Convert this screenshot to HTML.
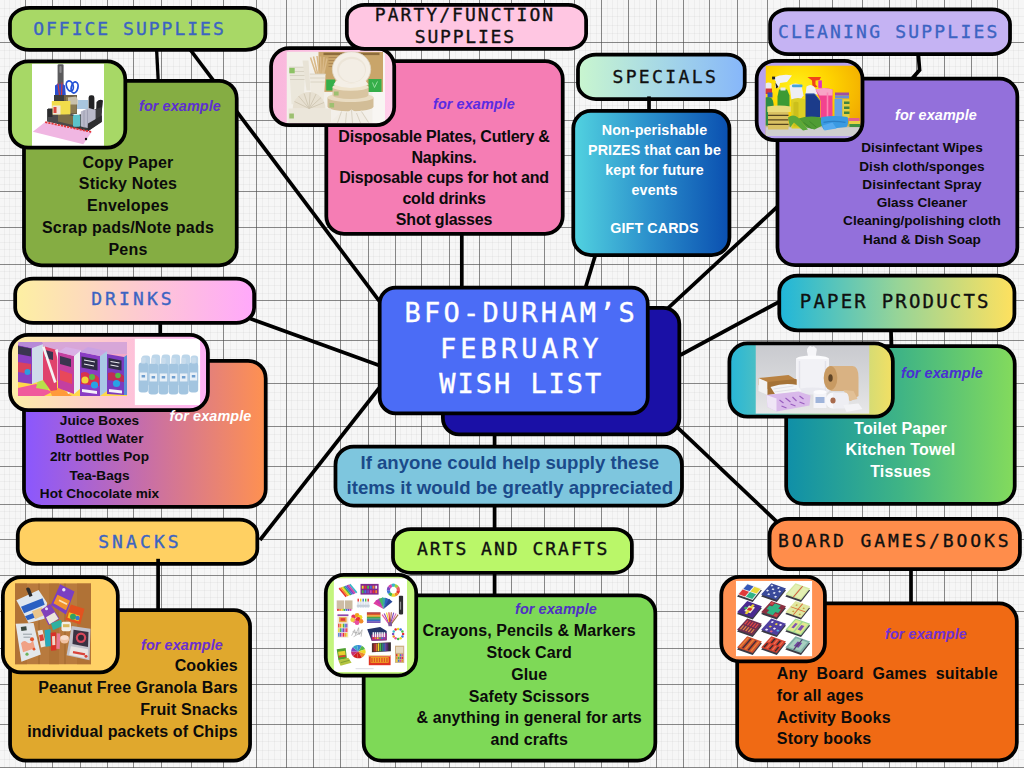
<!DOCTYPE html>
<html lang="en">
<head>
<meta charset="utf-8">
<title>BFO-Durham's February Wish List</title>
<style>
html,body{margin:0;padding:0}
body{width:1024px;height:768px;overflow:hidden;position:relative;background:#f6f6f6;font-family:"Liberation Sans",sans-serif;color:#0b0b0b}
#grid{position:absolute;left:0;top:0}
#shapes{position:absolute;left:0;top:0}
.pt{position:absolute;font-family:"DejaVu Sans Mono","Liberation Mono",monospace;font-size:18px;letter-spacing:1.8px;white-space:nowrap;line-height:20px;-webkit-text-stroke:.35px currentColor}
.t{position:absolute;font-weight:bold;white-space:nowrap;font-size:16px;line-height:21.8px;letter-spacing:.2px;text-align:center}
.s{font-size:13.6px;line-height:18.25px;letter-spacing:0}
.fe{position:absolute;font-style:italic;font-weight:bold;font-size:14.4px;line-height:16px;white-space:nowrap;letter-spacing:.1px}
</style>
</head>
<body>
<svg id="grid" width="1024" height="768" viewBox="0 0 1024 768" fill="none">
<path d="M4.5 0V768M9.5 0V768M15.5 0V768M20.5 0V768M31.5 0V768M36.5 0V768M41.5 0V768M47.5 0V768M58.5 0V768M63.5 0V768M69.5 0V768M74.5 0V768M85.5 0V768M91.5 0V768M96.5 0V768M102.5 0V768M112.5 0V768M118.5 0V768M123.5 0V768M128.5 0V768M139.5 0V768M144.5 0V768M150.5 0V768M155.5 0V768M167.5 0V768M173.5 0V768M179.5 0V768M185.5 0V768M197.5 0V768M204.5 0V768M210.5 0V768M217.5 0V768M230.5 0V768M236.5 0V768M243.5 0V768M249.5 0V768M262.5 0V768M268.5 0V768M274.5 0V768M280.5 0V768M291.5 0V768M297.5 0V768M302.5 0V768M308.5 0V768M319.5 0V768M324.5 0V768M329.5 0V768M335.5 0V768M346.5 0V768M351.5 0V768M357.5 0V768M362.5 0V768M373.5 0V768M379.5 0V768M384.5 0V768M390.5 0V768M400.5 0V768M406.5 0V768M411.5 0V768M416.5 0V768M427.5 0V768M432.5 0V768M438.5 0V768M443.5 0V768M455.5 0V768M461.5 0V768M467.5 0V768M473.5 0V768M485.5 0V768M492.5 0V768M498.5 0V768M505.5 0V768M518.5 0V768M524.5 0V768M531.5 0V768M537.5 0V768M550.5 0V768M556.5 0V768M562.5 0V768M568.5 0V768M579.5 0V768M585.5 0V768M590.5 0V768M596.5 0V768M607.5 0V768M612.5 0V768M617.5 0V768M623.5 0V768M634.5 0V768M639.5 0V768M645.5 0V768M650.5 0V768M661.5 0V768M667.5 0V768M672.5 0V768M678.5 0V768M688.5 0V768M694.5 0V768M699.5 0V768M704.5 0V768M715.5 0V768M720.5 0V768M726.5 0V768M731.5 0V768M743.5 0V768M749.5 0V768M755.5 0V768M761.5 0V768M773.5 0V768M780.5 0V768M786.5 0V768M793.5 0V768M806.5 0V768M812.5 0V768M819.5 0V768M825.5 0V768M838.5 0V768M844.5 0V768M850.5 0V768M856.5 0V768M867.5 0V768M873.5 0V768M878.5 0V768M884.5 0V768M895.5 0V768M900.5 0V768M905.5 0V768M911.5 0V768M922.5 0V768M927.5 0V768M933.5 0V768M938.5 0V768M949.5 0V768M955.5 0V768M960.5 0V768M966.5 0V768M976.5 0V768M982.5 0V768M987.5 0V768M992.5 0V768M1003.5 0V768M1008.5 0V768M1013.5 0V768M1018.5 0V768M0 8.5H1024M0 16.5H1024M0 25.5H1024M0 33.5H1024M0 50.5H1024M0 58.5H1024M0 66.5H1024M0 74.5H1024M0 90.5H1024M0 97.5H1024M0 105.5H1024M0 112.5H1024M0 127.5H1024M0 134.5H1024M0 141.5H1024M0 148.5H1024M0 163.5H1024M0 170.5H1024M0 177.5H1024M0 184.5H1024M0 198.5H1024M0 206.5H1024M0 213.5H1024M0 220.5H1024M0 234.5H1024M0 242.5H1024M0 249.5H1024M0 256.5H1024M0 271.5H1024M0 278.5H1024M0 285.5H1024M0 293.5H1024M0 308.5H1024M0 316.5H1024M0 324.5H1024M0 332.5H1024M0 349.5H1024M0 357.5H1024M0 366.5H1024M0 375.5H1024M0 392.5H1024M0 400.5H1024M0 409.5H1024M0 417.5H1024M0 434.5H1024M0 442.5H1024M0 450.5H1024M0 458.5H1024M0 474.5H1024M0 481.5H1024M0 489.5H1024M0 496.5H1024M0 511.5H1024M0 518.5H1024M0 525.5H1024M0 532.5H1024M0 547.5H1024M0 554.5H1024M0 561.5H1024M0 568.5H1024M0 582.5H1024M0 590.5H1024M0 597.5H1024M0 604.5H1024M0 618.5H1024M0 626.5H1024M0 633.5H1024M0 640.5H1024M0 655.5H1024M0 662.5H1024M0 669.5H1024M0 677.5H1024M0 692.5H1024M0 700.5H1024M0 708.5H1024M0 716.5H1024M0 733.5H1024M0 741.5H1024M0 750.5H1024M0 759.5H1024" stroke="#808080" stroke-opacity=".075" stroke-width="1"/>
<path d="M25.5 0V768M52.5 0V768M80.5 0V768M107.5 0V768M133.5 0V768M161.5 0V768M191.5 0V768M223.5 0V768M256.5 0V768M286.5 0V768M313.5 0V768M340.5 0V768M368.5 0V768M395.5 0V768M421.5 0V768M449.5 0V768M479.5 0V768M511.5 0V768M544.5 0V768M574.5 0V768M601.5 0V768M628.5 0V768M656.5 0V768M683.5 0V768M709.5 0V768M737.5 0V768M767.5 0V768M799.5 0V768M832.5 0V768M862.5 0V768M889.5 0V768M916.5 0V768M944.5 0V768M971.5 0V768M997.5 0V768M0 42.5H1024M0 82.5H1024M0 120.5H1024M0 155.5H1024M0 191.5H1024M0 227.5H1024M0 264.5H1024M0 300.5H1024M0 340.5H1024M0 383.5H1024M0 426.5H1024M0 466.5H1024M0 504.5H1024M0 539.5H1024M0 575.5H1024M0 611.5H1024M0 648.5H1024M0 684.5H1024M0 724.5H1024M0 767.5H1024" stroke="#4c4c4c" stroke-opacity=".66" stroke-width="1"/>
</svg>
<svg id="shapes" width="1024" height="768" viewBox="0 0 1024 768" stroke="#000" stroke-width="3.75" fill="none">
<defs>
<linearGradient id="g1" x1="0" y1="0" x2="1" y2="0"><stop offset="0%" stop-color="#8a57ff"/><stop offset="50%" stop-color="#c76ea8"/><stop offset="100%" stop-color="#ff9150"/></linearGradient>
<linearGradient id="g2" x1="0" y1="0" x2="1" y2="0"><stop offset="0%" stop-color="#52d3e0"/><stop offset="50%" stop-color="#2a8ecb"/><stop offset="100%" stop-color="#0a4fb0"/></linearGradient>
<linearGradient id="g3" x1="0" y1="0" x2="1" y2="0"><stop offset="0%" stop-color="#0f8fa8"/><stop offset="50%" stop-color="#3fb485"/><stop offset="100%" stop-color="#84db5c"/></linearGradient>
<clipPath id="c-i-office"><rect x="9.97" y="61.27" width="115.35" height="86.35" rx="18.12"/></clipPath>
<linearGradient id="g4" x1="0" y1="0" x2="1" y2="0"><stop offset="0%" stop-color="#fdeea6"/><stop offset="50%" stop-color="#fdc8d0"/><stop offset="100%" stop-color="#ffb0f6"/></linearGradient>
<clipPath id="c-i-drinks"><rect x="10.07" y="334.88" width="197.85" height="75.25" rx="18.12"/></clipPath>
<clipPath id="c-i-snacks"><rect x="2.88" y="577.08" width="114.95" height="95.35" rx="18.12"/></clipPath>
<linearGradient id="g5" x1="0" y1="0" x2="1" y2="0"><stop offset="0%" stop-color="#f9b6dc"/><stop offset="100%" stop-color="#ffd0ea"/></linearGradient>
<clipPath id="c-i-party"><rect x="271.07" y="48.17" width="123.15" height="76.95" rx="18.12"/></clipPath>
<clipPath id="c-i-clean"><rect x="756.67" y="60.88" width="105.85" height="79.25" rx="18.12"/></clipPath>
<linearGradient id="g6" x1="0" y1="0" x2="1" y2="0"><stop offset="0%" stop-color="#27b6d8"/><stop offset="50%" stop-color="#8fd09c"/><stop offset="100%" stop-color="#f3e063"/></linearGradient>
<clipPath id="c-i-paper"><rect x="729.38" y="343.48" width="163.45" height="73.15" rx="18.12"/></clipPath>
<clipPath id="c-i-board"><rect x="721.27" y="576.88" width="103.65" height="84.45" rx="18.12"/></clipPath>
<clipPath id="c-i-arts"><rect x="325.77" y="574.98" width="90.45" height="100.55" rx="18.12"/></clipPath>
<linearGradient id="g7" x1="0" y1="0" x2="1" y2="0"><stop offset="0%" stop-color="#fdf0a2"/><stop offset="50%" stop-color="#fdcbcf"/><stop offset="100%" stop-color="#ffa8fb"/></linearGradient>
<linearGradient id="g8" x1="0" y1="0" x2="1" y2="0"><stop offset="0%" stop-color="#c9f6cf"/><stop offset="50%" stop-color="#a6d8e6"/><stop offset="100%" stop-color="#86b6fa"/></linearGradient>
<linearGradient id="g9" x1="0" y1="0" x2="1" y2="0"><stop offset="0%" stop-color="#1fb6da"/><stop offset="50%" stop-color="#96d498"/><stop offset="100%" stop-color="#ffe15e"/></linearGradient>
</defs>
<g id="conn" stroke-width="3.7">
<line x1="190.5" y1="50" x2="380.5" y2="302.6"/>
<line x1="250" y1="318.5" x2="385" y2="367.5"/>
<line x1="260" y1="540" x2="380" y2="387"/>
<line x1="461.8" y1="232" x2="461.8" y2="290"/>
<line x1="596.3" y1="252" x2="584.8" y2="290"/>
<line x1="778" y1="206.1" x2="667" y2="309.2"/>
<line x1="779" y1="301.8" x2="680.5" y2="355" stroke-width="3.8"/>
<line x1="675.5" y1="425.6" x2="778" y2="522.8"/>
</g>
<rect x="23.98" y="80.78" width="212.75" height="184.55" rx="17.62" fill="#85ad43"/>
<rect x="23.98" y="360.77" width="241.75" height="146.05" rx="17.62" fill="url(#g1)"/>
<rect x="10.07" y="610.08" width="240.00" height="150.55" rx="16.12" fill="#e0a82d"/>
<rect x="326.32" y="61.17" width="236.40" height="172.65" rx="17.62" fill="#f57db4"/>
<rect x="573.27" y="110.97" width="156.15" height="144.05" rx="17.62" fill="url(#g2)"/>
<rect x="777.48" y="78.58" width="239.85" height="186.55" rx="17.62" fill="#9370db"/>
<rect x="786.17" y="346.18" width="228.55" height="157.75" rx="17.62" fill="url(#g3)"/>
<rect x="737.17" y="603.48" width="279.65" height="156.85" rx="17.62" fill="#f06a14"/>
<rect x="363.68" y="595.27" width="291.65" height="165.35" rx="17.62" fill="#7ed957"/>
<rect x="442.88" y="307.88" width="236.45" height="126.45" rx="16.12" fill="#1a10a6"/>
<rect x="379.68" y="287.57" width="268.05" height="125.85" rx="16.12" fill="#4b6cf6"/>
<rect x="335.48" y="446.57" width="346.45" height="58.95" rx="18.12" fill="#7ec6de"/>
<rect x="9.97" y="61.27" width="115.35" height="86.35" rx="18.12" fill="#a7d866" stroke="none"/>
<g clip-path="url(#c-i-office)" stroke="none">
<svg id="p-office" x="32.00" y="63.50" width="72" height="82.5" viewBox="0 0 72 82.5">
<rect width="72" height="82.5" fill="#fff"/>
<rect x="25.6" y="0.8" width="6" height="32" rx="1.2" fill="#5a5a5c"/>
<rect x="27.4" y="2.4" width="2.2" height="7" rx="1" fill="#8a8a8c"/>
<path d="M23 22l3-2 2 1 2-1 3 2 1 12H23z" fill="#2a4fcf"/>
<path d="M26 20l1.5 12M30 19l-.5 13" stroke="#d03a3a" stroke-width="1.2"/>
<ellipse cx="37.8" cy="22.5" rx="3.3" ry="5.2" transform="rotate(-18 37.8 22.5)" fill="none" stroke="#2453d6" stroke-width="1.8"/>
<ellipse cx="42.6" cy="24" rx="3.3" ry="5.6" transform="rotate(14 42.6 24)" fill="none" stroke="#2453d6" stroke-width="1.8"/>
<path d="M22 31.5h23v19H22z" fill="#6e6046"/>
<path d="M22 31.5h10v6H22z" fill="#3b3b3b"/>
<path d="M34 33.5h10.500v16H34z" fill="#8a7a52"/>
<path d="M45 36.500h11v9H45z" fill="#a9c6df"/>
<path d="M36 34l8-1 2 3v5H36z" fill="#d8d2c0" opacity=".8"/>
<rect x="56.600" y="31.800" width="5.800" height="15" rx="2.400" fill="#232325"/>
<path d="M64.500 38.500q3-3.500 6.500-1.500l-1.500 13h-5.500z" fill="#232325"/>
<path d="M15 45.500l30 6.500 24.800-8.500v14.500L55.500 68 15 57.800z" fill="#3a3a3c"/>
<path d="M15 45.500l30 6.500v12.500L15 57.800z" fill="#4a4a4c"/>
<path d="M26 49l17 4v9l-17-4z" fill="#7a6c48"/>
<path d="M19.800 37.600h18.600v13.500H19.800z" fill="#f1dc4b"/>
<path d="M20.500 42h8v9h-8z" fill="#efe6d8"/>
<path d="M21.500 43.500h3v6h-3z" fill="#d9463c"/>
<path d="M16 45h4.500v8.500H16z" fill="#2c2c2e"/>
<rect x="41" y="51.300" width="7.200" height="12" rx="1.600" fill="#5cc3cb"/>
<path d="M48.800 48l8-3.500 6.800 2v13l-8 5-6.800-1.500z" fill="#b9b9c9"/>
<path d="M52 47v17M55.500 46v18" stroke="#9a9aae" stroke-width=".8"/>
<path d="M56 60l13.800-8v6.500L55.500 68z" fill="#2e2e30"/>
<path d="M13.200 58.600L59.600 68.500 51.300 80.800 0.800 68.300z" fill="#f0b6e2"/>
<path d="M13.200 58.600L59.600 68.500" stroke="#e23535" stroke-width="1.800" stroke-dasharray="2.200 1"/>
<circle cx="54" cy="75.500" r="1.200" fill="#111"/>
</svg>
</g>
<rect x="9.97" y="61.27" width="115.35" height="86.35" rx="18.12" fill="none"/>
<rect x="10.07" y="334.88" width="197.85" height="75.25" rx="18.12" fill="url(#g4)" stroke="none"/>
<g clip-path="url(#c-i-drinks)" stroke="none">
<svg id="p-water" x="134.60" y="338.50" width="65.700" height="66.700" viewBox="0 0 65.700 66.700">
<rect width="65.700" height="66.700" fill="#fff"/>
<g fill="#bcd6ea">
<rect x="7" y="17" width="8.500" height="30" rx="3"/><rect x="17" y="16" width="8.500" height="31" rx="3"/><rect x="27" y="16" width="8.500" height="31" rx="3"/><rect x="37" y="16" width="8.500" height="31" rx="3"/><rect x="47" y="16" width="8.500" height="31" rx="3"/><rect x="56" y="17" width="7.500" height="30" rx="3"/>
</g>
<g fill="#a3c5e0">
<rect x="4" y="24" width="9.500" height="30" rx="3.200"/><rect x="13.800" y="25" width="9.800" height="31" rx="3.200"/><rect x="23.900" y="25" width="9.800" height="31" rx="3.200"/><rect x="34" y="25" width="9.800" height="31" rx="3.200"/><rect x="44.100" y="25" width="9.800" height="31" rx="3.200"/><rect x="54.200" y="24" width="9.400" height="30" rx="3.200"/>
</g>
<g fill="#c9dcec">
<rect x="6.500" y="19" width="4.500" height="6" rx="1"/><rect x="16.500" y="19.500" width="4.500" height="6" rx="1"/><rect x="26.600" y="19.500" width="4.500" height="6" rx="1"/><rect x="36.700" y="19.500" width="4.500" height="6" rx="1"/><rect x="46.800" y="19.500" width="4.500" height="6" rx="1"/><rect x="56.800" y="19" width="4.500" height="6" rx="1"/>
</g>
<g fill="#e8f0f7">
<rect x="5" y="34" width="7.500" height="8"/><rect x="15" y="35" width="7.500" height="8"/><rect x="25.100" y="35" width="7.500" height="8"/><rect x="35.200" y="35" width="7.500" height="8"/><rect x="45.300" y="35" width="7.500" height="8"/><rect x="55.300" y="34" width="7.200" height="8"/>
</g>
<g fill="#6f9fd0"><rect x="7" y="36.500" width="3.500" height="2.500"/><rect x="17" y="37.500" width="3.500" height="2.500"/><rect x="27.100" y="37.500" width="3.500" height="2.500"/><rect x="37.200" y="37.500" width="3.500" height="2.500"/><rect x="47.300" y="37.500" width="3.500" height="2.500"/><rect x="57.200" y="36.500" width="3.500" height="2.500"/></g>
</svg>

<svg id="p-juice" x="18.00" y="342.00" width="109" height="54" viewBox="0 0 109 54">
<rect width="109" height="54" fill="#f3a8c8"/>
<rect width="109" height="12" fill="#d7a6d8"/>
<path d="M0 40l30-6 22 10 20-4 37 8v6H0z" fill="#ffd84a"/>
<path d="M0 46l18-4 16 8-8 4H0z" fill="#f05a9c"/>
<path d="M30 44l14 3 10 7H34z" fill="#ff9a3a"/>
<path d="M20 38l14 2-4 8-12-2z" fill="#b8e04a"/>
<path d="M0 3l14 3v36L0 40z" fill="#8a3fc2"/>
<path d="M0 4l13 2.500v8L0 12z" fill="#3a3550"/>
<path d="M0 20l13 2v10L0 30z" fill="#d9425e"/>
<path d="M14 6l11-4v36l-11 4z" fill="#cfdcea"/>
<path d="M14 6l11-4-1-2H2L0 3z" fill="#b68ad8"/>
<circle cx="9.500" cy="30" r="3" fill="#2c9be0"/>
<path d="M25 4l14 4v40l-6 1L25 38z" fill="#e0436c"/>
<path d="M27 8l8 2v8l-8-2z" fill="#3a3550"/>
<path d="M24 5l2.500-1 12 36-2.500 1z" fill="#f4f4f6"/>
<path d="M37 8l2.500-1 13 44-2.500 1z" fill="#f0f0f4"/>
<path d="M40 10l16 4v38l-16-6z" fill="#c43fa0"/>
<path d="M42 14l11 3v8l-11-3z" fill="#3a3550"/>
<path d="M42 28l12 4v10l-12-4z" fill="#e8485a"/>
<path d="M56 14l7-6v38l-7 6z" fill="#e9eef4"/>
<path d="M40 10l16 4 7-6-15-3z" fill="#d9b0e6"/>
<path d="M62 10l20 4v40H62z" fill="#8a3cc4"/>
<path d="M63.500 14.500l16 3v11l-16-3z" fill="#2f2c44"/>
<path d="M66 18l11 2M66 22l10 2" stroke="#e9e9f0" stroke-width="1.200"/>
<path d="M63 31q6-3 9 2 6-2 9 3v8l-18-2z" fill="#d8314e"/>
<circle cx="67" cy="38" r="3.500" fill="#f2d43a"/>
<circle cx="74" cy="35" r="3" fill="#58b848"/>
<circle cx="76.500" cy="43" r="3.600" fill="#28a2e6"/>
<path d="M64 47l15 2v3l-15-2z" fill="#f4f0fa"/>
<path d="M82 14l7-5v40l-7 5z" fill="#a9c8e6"/>
<path d="M62 10l20 4 7-5-19-4z" fill="#caa2e2"/>
<path d="M89 12l17 3v38l-17-1z" fill="#7c3bbf"/>
<path d="M90.500 16l13 2.500v10l-13-2.500z" fill="#2f2c44"/>
<path d="M92.500 19.500l9 1.500M92.500 23l8 1.500" stroke="#e9e9f0" stroke-width="1.100"/>
<path d="M90 31q5-2 8 1 4-2 8 2v6l-16-2z" fill="#c02c54"/>
<circle cx="100" cy="33.500" r="2.800" fill="#58b848"/>
<circle cx="98.500" cy="41.500" r="3.600" fill="#28a2e6"/>
<path d="M91 47l13 1.500v3L91 50z" fill="#f4f0fa"/>
<path d="M106 15l3-2v40h-3z" fill="#5a8fd6"/>
</svg>
</g>
<rect x="10.07" y="334.88" width="197.85" height="75.25" rx="18.12" fill="none"/>
<rect x="2.88" y="577.08" width="114.95" height="95.35" rx="18.12" fill="#ffd166" stroke="none"/>
<g clip-path="url(#c-i-snacks)" stroke="none">
<svg id="p-snacks" x="15.00" y="583.20" width="76" height="81.300" viewBox="0 0 76 81.300">
<rect width="76" height="81.300" fill="#b87a3e"/>
<path d="M0 0h12v81.300H0zM34 0h10v81.300H34zM62 0h14v81.300H62z" fill="#a96b30" opacity=".55"/>
<path d="M24 0v81M50 0v81" stroke="#8d5826" stroke-width=".8" opacity=".7"/>
<path d="M1.400 17L23.600 6.900 32.200 19.800 29.400 35.500 13.600 39.800z" fill="#dfe7ef"/>
<path d="M6 23.500L27.500 15l2.200 6.500L9 30z" fill="#2b60c2"/>
<path d="M10 33l9-3.500 2 4.500-8.500 3z" fill="#2b60c2"/>
<path d="M17 28l10-4 2 8-9 4z" fill="#e9c58a"/>
<path d="M11 5.500q2-2.500 4 0l2.500 7-3 1.200z" fill="#2a2a2c"/>
<path d="M45.100 1.100L59.500 8.300 50.900 31.200 35.800 21.900z" fill="#7a3fc2"/>
<path d="M42.500 11.500l12.500 6-4 9.500-12.500-7z" fill="#f0922c"/>
<path d="M44 17l8 4" stroke="#fbe3b8" stroke-width="1.600"/>
<circle cx="48.800" cy="6.500" r="1.700" fill="#e9dff5"/>
<path d="M25.800 26.900L35.100 20.500 44.400 35.500 33.700 42z" fill="#8141ba"/>
<path d="M31 34l8.500-5 4 6.500-9 5.500z" fill="#ece6da"/>
<circle cx="31.500" cy="25.500" r="1.500" fill="#e9dff5"/>
<path d="M55.900 21.200L69.500 25.500 65.200 41.300 50.100 36.200z" fill="#e2521f"/>
<path d="M54 29l11 3.500-1.500 5.500-11-3.500z" fill="#f1c324"/>
<circle cx="58" cy="33.600" r="3" fill="#2fa364"/>
<circle cx="62.500" cy="34.800" r="2.200" fill="#3a78d0"/>
<path d="M36 40l10-3.500 2 6-10 4.500z" fill="#2fb0a0"/>
<rect x="46.500" y="38.500" width="9.500" height="9.500" rx="2" fill="#f1efe6"/>
<rect x="48" y="41" width="6.500" height="3" fill="#d9b95a"/>
<path d="M0.700 40.500L18.600 39.800 25.800 71.300 6.400 78.500z" fill="#e3e7eb"/>
<rect x="6" y="43.500" width="5.500" height="4" fill="#3c4a42" transform="rotate(-8 8 45)"/>
<path d="M6 60q3-4 6-1t6-2l2 8-12 4z" fill="#f0a184"/>
<circle cx="17" cy="56" r="2" fill="#e2542d"/><circle cx="12" cy="71" r="1.600" fill="#6fb25c"/><circle cx="19" cy="66" r="1.400" fill="#e2542d"/>
<path d="M8 51h9M8.500 54h7" stroke="#8e979e" stroke-width=".9"/>
<path d="M22.500 47.500l5-1 3.500 16.500-5 1.200z" fill="#ebe4dc"/>
<path d="M24 52l4-1 1.200 6-4 1z" fill="#d9413a"/>
<path d="M29.500 47l6-1.200 1 17-6 .8z" fill="#27a9ba"/>
<path d="M35.500 49.500l5.500-.5.500 18-5.500.5z" fill="#d93128"/>
<path d="M37 53l3-.2.300 9-3 .2z" fill="#f3d8c8"/>
<path d="M41.800 50l3.500.4-.6 15.500-3.400-.4z" fill="#e87a92"/>
<ellipse cx="49.500" cy="56" rx="4.600" ry="4.200" fill="#f1c2a2"/>
<ellipse cx="49.500" cy="54.500" rx="4" ry="2.200" fill="#f7dccb"/>
<path d="M56.600 42.700L75.500 45.600 74.500 77 51.600 72z" fill="#c3c3cb"/>
<path d="M58.500 46.500l15 2.300-.5 15-15.500-3z" fill="#3a3242"/>
<circle cx="66" cy="54.500" r="5.200" fill="#d8495c"/>
<circle cx="66" cy="54.500" r="3" fill="#2e2836"/>
<path d="M56 63l17 3-.4 9.500L54 71.500z" fill="#e9e4e2"/>
<path d="M58 69l12 2.200" stroke="#d8433a" stroke-width="2.200"/>
<circle cx="71" cy="73" r="1.500" fill="#d8433a"/>
</svg>
</g>
<rect x="2.88" y="577.08" width="114.95" height="95.35" rx="18.12" fill="none"/>
<rect x="271.07" y="48.17" width="123.15" height="76.95" rx="18.12" fill="url(#g5)" stroke="none"/>
<g clip-path="url(#c-i-party)" stroke="none">
<svg id="p-party" x="286.50" y="51.50" width="98.500" height="71.500" viewBox="0 0 98.500 71.500">
<rect width="98.500" height="71.500" fill="#f3f0ea"/>
<rect x="86" width="12.500" height="71.500" fill="#f8f6f3"/>
<rect x="32" y="0.400" width="64.500" height="40" fill="#c9a56a"/>
<rect x="37" y="1.200" width="56" height="2.400" fill="#8d6c3c"/>
<path d="M42 6h14M42 9h12M42 12h14M42 15h10" stroke="#a98552" stroke-width=".9"/>
<path d="M39.700 28h9v11h-9zM82 27.400h13v13H82z" fill="#35ae49"/>
<path d="M86 31l2 5 3-6" stroke="#9fe0a6" stroke-width=".9" fill="none"/>
<path d="M2.700 15.700h16l-1.600 37H5z" fill="#ebe7db"/>
<path d="M2.700 15.700h16M3 20h15.500M3.300 24h15M3.600 28h14.400" stroke="#d5cfbf" stroke-width=".9"/>
<rect x="2.800" y="16.400" width="5.400" height="5.400" fill="#8cc264"/>
<path d="M16 9l4 30h4L22 9z" fill="#e8e3d6"/>
<path d="M24 6l6 18M27 5l4.500 19M30.500 4.500l2.500 19M34 5l.5 18M37.500 5.500l-1.500 18M40.500 7l-3.500 16" stroke="#d9b988" stroke-width="1.500"/>
<path d="M23.300 22.600h15.800l-1.800 26H25z" fill="#efeadf"/>
<path d="M23.300 22.600h15.800M23.600 26.500h15.200M23.900 30.500h14.600" stroke="#d8d2c2" stroke-width=".9"/>
<ellipse cx="65" cy="17.800" rx="19.200" ry="17.600" fill="#f4efe6" stroke="#ddd4c2" stroke-width=".8"/>
<ellipse cx="65" cy="18.300" rx="14.500" ry="13" fill="#ece5d8"/>
<ellipse cx="65.500" cy="19" rx="13" ry="11.500" fill="#f3eee5"/>
<path d="M41 46v9a23 5 0 0 0 46 0v-9z" fill="#d2bd97"/>
<ellipse cx="64" cy="46" rx="23" ry="4.600" fill="#e9dcc3"/>
<path d="M46 35.500v8a18 4 0 0 0 36 0v-8z" fill="#d9c5a1"/>
<ellipse cx="64" cy="35.500" rx="18" ry="3.800" fill="#efe4cd"/>
<path d="M47 33q17 7 35 0l-3-4q-14 6-29 0z" fill="#f4efe6"/>
<rect x="47.500" y="40" width="4.600" height="4" fill="#9dc070"/>

<rect x="43" y="51.500" width="4.600" height="4.500" fill="#9dc070"/>
<path d="M2 57h42.500v14.500H2z" fill="#ebe6da"/>
<path d="M6.200 57a16.400 16.400 0 0 1 32.800 0z" fill="#e7e0d1"/>
<path d="M22.600 57L8 50M22.600 57L12 44.500M22.600 57l-5-15M22.600 57l1-16M22.600 57l7-14.500M22.600 57l12-11M22.600 57l15-6" stroke="#cfc6b2" stroke-width=".9"/>
<rect x="2.800" y="62" width="4.600" height="5" fill="#9dc070"/>
<path d="M43 71.500l12-12 5 2 5-3.500 5 3 5-2 9 12.500z" fill="#f1ede5"/>
<path d="M55 60l-4 11.500M60 61l-1 10.500M65 58.500l1 13M70 61.500l4 10M75 60l7 11" stroke="#d6cfbf" stroke-width=".9"/>
</svg>
</g>
<rect x="271.07" y="48.17" width="123.15" height="76.95" rx="18.12" fill="none"/>
<rect x="756.67" y="60.88" width="105.85" height="79.25" rx="18.12" fill="#b7a1ee" stroke="none"/>
<g clip-path="url(#c-i-clean)" stroke="none">
<svg id="p-clean" x="765.50" y="65.40" width="95.300" height="70.600" viewBox="0 0 95.300 70.600">
<defs><radialGradient id="yg" cx="32%" cy="30%" r="80%"><stop offset="0" stop-color="#fff21a"/><stop offset=".45" stop-color="#ffd400"/><stop offset="1" stop-color="#f0a800"/></radialGradient></defs>
<rect width="95.300" height="70.600" fill="url(#yg)"/>
<rect y="61" width="95.300" height="9.600" fill="#cfcfcf"/>
<rect y="58" width="95.300" height="4" fill="#b9b08a" opacity=".6"/>
<path d="M0 18q3-2 6 0v6H0z" fill="#e9e9ee"/>
<path d="M0 23h6.500v5.500H0z" fill="#d6363a"/><path d="M2 27h5v5H2z" fill="#2f55b8"/>
<path d="M0 32q7-2 8 6l1.500 22H0z" fill="#2e8c44"/>
<path d="M7.500 12.500q9-4.500 19-2.500l-5 6.500-7 1-1 4.500h-4l1-6z" fill="#f1f1f4"/>
<rect x="6.600" y="11.200" width="3" height="2.800" fill="#1e1e22"/>
<path d="M10 17l3 4.500-2.500 1.500z" fill="#1e1e22"/>
<path d="M13.500 24h8l2.500 6v12h-12V31z" fill="#3c9a34"/>
<path d="M15 22h5v3h-5z" fill="#e8e8ec"/>
<path d="M24 20q6-4 12 0l2 10-3 4-9 1z" fill="#eeeef2"/>
<rect x="26.500" y="19" width="10.500" height="2.800" rx="1" fill="#45a3da"/>
<path d="M25.500 34q7-3 14 0l.5 29h-14z" fill="#dccf24"/>
<path d="M28 37q3-1.500 5 0v24h-5z" fill="#c4b818" opacity=".7"/>
<path d="M42 11.500h13.500l-1.500 3-4 .6v4l2 2.400-5 .5-.5-7z" fill="#f0431a"/>
<path d="M41 21q4-3 7.500 0l5.500 8H40z" fill="#eeeef2"/>
<path d="M40 28.500h9l5.500 7V52H40z" fill="#1b3b8a"/>
<path d="M40 28.500h9l5.500 7" stroke="#3457aa" stroke-width="1" fill="none"/>
<rect x="52.800" y="15" width="3.600" height="7.500" fill="#e032c2"/>
<path d="M50 24q8.500-3 17 0v29H55V35z" fill="#f2438f"/>
<path d="M50 24q8.500-3 17 0v6H54z" fill="#f8a4c6"/>
<path d="M62 27v25" stroke="#fa86b6" stroke-width="1.600"/>
<path d="M69.500 27h14v3.200h-14z" fill="#a04fa2"/>
<path d="M69.500 30.200h14v3h-14z" fill="#6c8fd4"/>
<path d="M69 33.500h8v19h-8z" fill="#62a2e4"/>
<path d="M77 34h7v18.500h-7z" fill="#e6d042"/>
<path d="M78.500 36h5.500v2.600h-5.500zM78.500 41h5.500v2.600h-5.500zM78.500 46h5.500v2.600h-5.500z" fill="#3f8440"/>
<path d="M1.800 41q12-2 23.500 0v5.500H1.800z" fill="#eadb7c"/>
<path d="M2.500 46.500h20.500v17.500H2.500z" fill="#d9c162"/>
<path d="M2.500 50h20.500M2.500 54.500h20.500M2.500 59h20.500" stroke="#55441f" stroke-width="1.400"/>
<path d="M22.500 52q5-4 10 0l10 12-5 1-9-8-4 5z" fill="#5aa83a"/>
<path d="M33 53q10-3 22-1l4 7-10 5-8-2z" fill="#4f9c34"/>
<path d="M38 57l8 6M44 56l7 6" stroke="#3f862a" stroke-width="1"/>
<path d="M56 51.500q13-2 26 0 2 5-1 10L58 64q-4-6-2-12.500z" fill="#3a9ae2"/>
<path d="M58 57q10-2 22 0" stroke="#2a7fc6" stroke-width="1.200" fill="none"/>
<path d="M57 60l10-3 4 6-12 2z" fill="#54aaf0"/>
<path d="M83 52.500h11v3.200H83z" fill="#e0608f"/>
<path d="M83.500 55.700h11v3H83.500z" fill="#e8d044"/>
<path d="M84 58.700h10.500v2.800H84z" fill="#3f9040"/>
</svg>
</g>
<rect x="756.67" y="60.88" width="105.85" height="79.25" rx="18.12" fill="none"/>
<rect x="729.38" y="343.48" width="163.45" height="73.15" rx="18.12" fill="url(#g6)" stroke="none"/>
<g clip-path="url(#c-i-paper)" stroke="none">
<svg id="p-paper" x="755.50" y="345.00" width="114" height="68.800" viewBox="0 0 114 68.800">
<defs><linearGradient id="pg" x1="0" y1="0" x2="0" y2="1"><stop offset="0" stop-color="#c9cacf"/><stop offset=".6" stop-color="#d9dadc"/><stop offset="1" stop-color="#e7e7e8"/></linearGradient></defs>
<rect width="114" height="68.800" fill="url(#pg)"/>
<path d="M53 2q2-2 3.500 0 2-1.500 3 .5 2.500.5 1.500 4l-1 7h-7l-1.500-7q-.5-3 1.500-4.500z" fill="#f6f6f9"/>
<ellipse cx="57" cy="14" rx="16.500" ry="3.600" fill="#fbfbfd"/>
<path d="M40.500 14h33v32h-33z" fill="#f2f2f6"/>
<ellipse cx="57" cy="46" rx="16.500" ry="3.600" fill="#e9e9ef"/>
<path d="M44 16v30M70 16v30" stroke="#e2e2ea" stroke-width="1.400"/>
<path d="M75 21h22q6 0 6 12v18l-8 5-5-10H75z" fill="#d9b283"/>
<path d="M88 45l10 1 4 8-9 2z" fill="#e2c096"/>
<ellipse cx="75" cy="33" rx="6.800" ry="12" fill="#c89a62"/>
<ellipse cx="75" cy="33" rx="2.200" ry="3.800" fill="#5f4426"/>
<path d="M3 33l30-3 8 5v5L12 44l-9-4z" fill="#b98242"/>
<path d="M3 33l9 4v13l-9-4z" fill="#f2f2f2"/>
<path d="M12 37l29-3v12l-29 4z" fill="#a57236"/>
<path d="M15 42q14-5 27-2l4 6-26 4z" fill="#f4f4f6"/>
<path d="M18 44l20-3M19 47l22-3" stroke="#dcdce2" stroke-width=".8"/>
<path d="M11 50l32-3.500 12 4-1 10-33 6L12 62z" fill="#d9b9ea"/>
<path d="M11 50l10 3.500v13L12 62z" fill="#efe6f6"/>
<path d="M24 55l4 3M30 53l5 4M37 52l4 4M44 51l4 3M26 61l5 2M35 59l5 2M44 57l5 2" stroke="#9a5fc0" stroke-width="1.200"/>
<path d="M58 47h13v16H58z" fill="#f4f4f8"/><ellipse cx="64.500" cy="47" rx="6.500" ry="2" fill="#fbfbfd"/>
<rect x="60" y="52" width="9" height="6" fill="#9fb4da"/>
<ellipse cx="77.500" cy="55.500" rx="7.400" ry="8" fill="#f7f7fa"/>
<path d="M77.500 47.500h12q4 0 4 8t-4 8h-12z" fill="#eeeef3"/>
<ellipse cx="77.500" cy="55.500" rx="2.600" ry="3" fill="#a86a4c"/>
<path d="M88 60l15-1.500 4 5.500-16 3z" fill="#f3f3f6"/>
</svg>
</g>
<rect x="729.38" y="343.48" width="163.45" height="73.15" rx="18.12" fill="none"/>
<rect x="721.27" y="576.88" width="103.65" height="84.45" rx="18.12" fill="#ff9152" stroke="none"/>
<g clip-path="url(#c-i-board)" stroke="none">
<svg id="p-board" x="735.80" y="580.80" width="76.5" height="75.6" viewBox="0 0 76.5 75.6">
<rect width="76.5" height="75.6" fill="#fff"/>
<path d="M11.4 4.2L26.1 9.5L16.9 21.1L1.2 15.6z" fill="#3a3a44"/>
<path d="M11.4 2.4L26.1 7.7L16.9 19.3L1.2 13.8z" fill="#f0f0f0"/>
<path d="M11.7 3.4L17.7 5.6L13.7 10.3L7.5 8.1z" fill="#3558b8"/>
<path d="M18.6 5.9L24.7 8.1L20.9 12.8L14.6 10.6z" fill="#e8d838"/>
<path d="M14.1 11.3L20.3 13.5L16.5 18.3L10.1 16.0z" fill="#30b488"/>
<path d="M6.9 8.8L13.2 11.0L9.2 15.7L2.8 13.4z" fill="#e03a3a"/>
<path d="M35.5 4.2L50.2 9.5L41.0 21.1L25.3 15.6z" fill="#3a3a44"/>
<path d="M35.5 2.4L50.2 7.7L41.0 19.3L25.3 13.8z" fill="#3a4a9a"/>
<path d="M35.9 3.7L37.6 4.4L36.4 5.7L34.7 5.1z" fill="#e8ecf8"/>
<path d="M31.4 8.8L33.2 9.4L32.0 10.8L30.2 10.1z" fill="#e8ecf8"/>
<path d="M36.9 7.4L38.7 8.1L37.6 9.4L35.8 8.8z" fill="#e8ecf8"/>
<path d="M32.6 12.5L34.4 13.1L33.3 14.5L31.4 13.8z" fill="#e8ecf8"/>
<path d="M42.4 6.1L44.1 6.7L43.0 8.1L41.2 7.5z" fill="#e8ecf8"/>
<path d="M38.1 11.1L39.9 11.8L38.8 13.2L36.9 12.5z" fill="#e8ecf8"/>
<path d="M43.5 9.8L45.3 10.4L44.2 11.8L42.4 11.2z" fill="#e8ecf8"/>
<path d="M39.4 14.9L41.2 15.5L40.1 16.9L38.2 16.3z" fill="#e8ecf8"/>
<path d="M59.7 4.2L74.4 9.5L65.2 21.1L49.5 15.6z" fill="#3a3a44"/>
<path d="M59.7 2.4L74.4 7.7L65.2 19.3L49.5 13.8z" fill="#d4e8a0"/>
<path d="M66.4 5.1L67.3 5.4L58.0 16.5L57.1 16.2z" fill="#d84a3a"/>
<path d="M59.9 4.0L64.9 5.8L57.1 15.0L51.8 13.1z" fill="#e4f0b4"/>
<path d="M67.3 6.6L72.3 8.4L64.9 17.7L59.6 15.8z" fill="#e4f0b4"/>
<path d="M11.4 21.9L26.1 27.2L16.9 38.8L1.2 33.3z" fill="#3a3a44"/>
<path d="M11.4 20.1L26.1 25.4L16.9 37.0L1.2 31.5z" fill="#4a2a90"/>
<path d="M13.3 24.6L19.3 26.7L14.6 32.5L8.4 30.3z" fill="#f0e8d0"/>
<path d="M16.6 23.5L19.0 24.3L11.3 33.5L8.8 32.7z" fill="#e8d030"/>
<path d="M13.1 26.7L16.7 28.0L14.8 30.3L11.1 29.0z" fill="#d83030"/>
<path d="M9.4 25.7L12.0 26.6L10.4 28.4L7.8 27.5z" fill="#40b060"/>
<path d="M35.5 21.9L50.2 27.2L41.0 38.8L25.3 33.3z" fill="#3a3a44"/>
<path d="M35.5 20.1L50.2 25.4L41.0 37.0L25.3 31.5z" fill="#8a3040"/>
<path d="M39.1 22.6L45.0 24.7L37.0 34.4L30.8 32.2z" fill="#30b484"/>
<path d="M33.7 24.7L45.2 28.8L42.4 32.3L30.7 28.2z" fill="#30b484"/>
<path d="M35.7 20.9L38.7 22.0L36.7 24.3L33.7 23.2z" fill="#d04848"/>
<path d="M39.4 32.7L42.5 33.8L40.7 36.1L37.5 35.0z" fill="#d04848"/>
<path d="M59.7 21.9L74.4 27.2L65.2 38.8L49.5 33.3z" fill="#3a3a44"/>
<path d="M59.7 20.1L74.4 25.4L65.2 37.0L49.5 31.5z" fill="#e0e8a0"/>
<path d="M66.4 22.8L67.3 23.1L58.0 34.2L57.1 33.9z" fill="#d86a3a"/>
<path d="M55.2 25.6L69.8 30.7L69.2 31.4L54.6 26.3z" fill="#d86a3a"/>
<path d="M60.6 23.4L62.1 24.0L61.1 25.1L59.6 24.6z" fill="#c8a040"/>
<path d="M67.6 26.7L69.1 27.2L68.2 28.4L66.7 27.8z" fill="#c8a040"/>
<path d="M57.2 29.7L58.7 30.3L57.7 31.4L56.2 30.9z" fill="#c8a040"/>
<path d="M63.6 32.7L65.2 33.3L64.2 34.4L62.7 33.9z" fill="#c8a040"/>
<path d="M11.4 39.4L26.1 44.7L16.9 56.3L1.2 50.8z" fill="#3a3a44"/>
<path d="M11.4 37.6L26.1 42.9L16.9 54.5L1.2 49.0z" fill="#703050"/>
<path d="M11.7 39.5L12.8 39.9L9.5 43.7L8.3 43.3z" fill="#e44848"/>
<path d="M7.3 44.4L8.5 44.8L5.2 48.6L4.0 48.2z" fill="#e48a48"/>
<path d="M14.2 40.4L15.4 40.8L12.1 44.6L10.9 44.2z" fill="#e44848"/>
<path d="M9.9 45.3L11.1 45.8L7.9 49.5L6.6 49.1z" fill="#e48a48"/>
<path d="M16.7 41.3L17.9 41.7L14.7 45.5L13.5 45.1z" fill="#e44848"/>
<path d="M12.5 46.3L13.7 46.7L10.5 50.5L9.3 50.0z" fill="#e48a48"/>
<path d="M19.2 42.2L20.4 42.6L17.3 46.4L16.1 46.0z" fill="#e44848"/>
<path d="M15.1 47.2L16.3 47.6L13.2 51.4L11.9 51.0z" fill="#e48a48"/>
<path d="M21.7 43.1L22.9 43.5L19.8 47.4L18.6 46.9z" fill="#e44848"/>
<path d="M17.7 48.1L18.9 48.5L15.8 52.3L14.6 51.9z" fill="#e48a48"/>
<path d="M35.5 39.4L50.2 44.7L41.0 56.3L25.3 50.8z" fill="#3a3a44"/>
<path d="M35.5 37.6L50.2 42.9L41.0 54.5L25.3 49.0z" fill="#5040a0"/>
<path d="M36.2 40.1L38.1 40.8L36.8 42.3L34.9 41.6z" fill="#f0e8f8"/>
<path d="M40.2 42.3L42.1 43.0L40.9 44.5L38.9 43.8z" fill="#e8d040"/>
<path d="M44.4 43.0L46.3 43.7L45.1 45.2L43.1 44.5z" fill="#f0e8f8"/>
<path d="M34.2 44.7L36.2 45.4L34.9 46.8L32.9 46.1z" fill="#e8d040"/>
<path d="M38.3 46.8L40.3 47.5L39.0 49.0L37.0 48.3z" fill="#f0e8f8"/>
<path d="M41.6 48.8L43.6 49.5L42.4 51.0L40.4 50.3z" fill="#58b0e0"/>
<path d="M30.4 47.8L32.5 48.5L31.2 50.0L29.1 49.3z" fill="#f0e8f8"/>
<path d="M35.1 49.5L37.1 50.2L35.9 51.7L33.8 50.9z" fill="#e06080"/>
<path d="M59.7 39.4L74.4 44.7L65.2 56.3L49.5 50.8z" fill="#3a3a44"/>
<path d="M59.7 37.6L74.4 42.9L65.2 54.5L49.5 49.0z" fill="#a0d890"/>
<path d="M60.1 38.9L65.5 40.9L57.3 50.6L51.6 48.5z" fill="#e0e890"/>
<path d="M67.0 41.4L72.5 43.4L64.7 53.1L58.9 51.1z" fill="#e0e890"/>
<path d="M65.6 44.2L68.6 45.3L64.9 49.9L61.8 48.8z" fill="#8050b0"/>
<path d="M59.6 42.1L61.9 42.9L57.9 47.5L55.6 46.7z" fill="#8050b0"/>
<path d="M11.4 57.2L26.1 62.5L16.9 74.1L1.2 68.6z" fill="#3a3a44"/>
<path d="M11.4 55.4L26.1 60.7L16.9 72.3L1.2 66.8z" fill="#d05030"/>
<path d="M11.8 56.7L13.1 57.2L4.7 66.8L3.3 66.3z" fill="#e88838"/>
<path d="M14.4 57.7L15.8 58.2L7.5 67.8L6.1 67.3z" fill="#403038"/>
<path d="M17.1 58.7L18.4 59.1L10.3 68.8L8.9 68.3z" fill="#e88838"/>
<path d="M19.7 59.6L21.1 60.1L13.1 69.8L11.7 69.3z" fill="#403038"/>
<path d="M22.4 60.6L23.7 61.0L15.9 70.8L14.5 70.3z" fill="#e88838"/>
<path d="M35.5 57.2L50.2 62.5L41.0 74.1L25.3 68.6z" fill="#3a3a44"/>
<path d="M35.5 55.4L50.2 60.7L41.0 72.3L25.3 66.8z" fill="#d04030"/>
<path d="M35.9 56.7L37.2 57.2L33.5 61.4L32.1 61.0z" fill="#f07050"/>
<path d="M31.1 62.1L32.5 62.6L28.8 66.8L27.4 66.3z" fill="#302c30"/>
<path d="M38.5 57.7L39.9 58.2L36.2 62.4L34.8 61.9z" fill="#302c30"/>
<path d="M33.9 63.1L35.2 63.6L31.6 67.8L30.2 67.3z" fill="#f07050"/>
<path d="M41.2 58.7L42.5 59.1L38.9 63.4L37.6 62.9z" fill="#f07050"/>
<path d="M36.6 64.1L38.0 64.5L34.4 68.8L33.0 68.3z" fill="#302c30"/>
<path d="M43.8 59.6L45.2 60.1L41.7 64.4L40.3 63.9z" fill="#302c30"/>
<path d="M39.3 65.0L40.7 65.5L37.2 69.8L35.8 69.3z" fill="#f07050"/>
<path d="M46.5 60.6L47.8 61.0L44.4 65.3L43.0 64.8z" fill="#f07050"/>
<path d="M42.1 66.0L43.5 66.5L40.0 70.8L38.6 70.3z" fill="#302c30"/>
<path d="M59.7 57.2L74.4 62.5L65.2 74.1L49.5 68.6z" fill="#3a3a44"/>
<path d="M59.7 55.4L74.4 60.7L65.2 72.3L49.5 66.8z" fill="#80b0a8"/>
<path d="M60.3 57.4L71.5 61.5L64.4 70.3L52.6 66.1z" fill="#a8d0c0"/>
<path d="M61.9 60.7L66.4 62.3L62.6 66.9L57.9 65.3z" fill="#7048a0"/>
<path d="M66.0 58.4L67.2 58.8L58.5 69.2L57.2 68.8z" fill="#584070"/>
</svg>
</g>
<rect x="721.27" y="576.88" width="103.65" height="84.45" rx="18.12" fill="none"/>
<rect x="325.77" y="574.98" width="90.45" height="100.55" rx="18.12" fill="#c3f57e" stroke="none"/>
<g clip-path="url(#c-i-arts)" stroke="none">
<svg id="p-arts" x="333.60" y="577.70" width="73.4" height="94.5" viewBox="0 0 73.4 94.5">
<rect width="73.4" height="94.5" fill="#fff"/>
<path d="M5.0 11.0l7 8.500 1.300-1.100-7-8.500z" fill="#e83030"/>
<path d="M6.5 10.4l7 8.500 1.300-1.100-7-8.500z" fill="#f08a28"/>
<path d="M8.0 9.9l7 8.500 1.300-1.100-7-8.500z" fill="#f0d828"/>
<path d="M9.5 9.3l7 8.500 1.300-1.100-7-8.500z" fill="#48b848"/>
<path d="M11.0 8.8l7 8.500 1.300-1.100-7-8.500z" fill="#3a78d8"/>
<path d="M12.5 8.2l7 8.500 1.300-1.100-7-8.500z" fill="#7a48c0"/>
<path d="M14.0 7.7l7 8.500 1.300-1.100-7-8.500z" fill="#d848a8"/>
<path d="M15.5 7.1l7 8.500 1.300-1.100-7-8.500z" fill="#38b8c8"/>
<rect x="26.900" y="6.200" width="18.100" height="10.700" fill="#802890"/>
<rect x="28.2" y="8" width="1.800" height="3" fill="#f0d828"/><rect x="28.2" y="12.500" width="1.800" height="3" fill="#48b848"/>
<rect x="30.9" y="8" width="1.800" height="3" fill="#e83030"/><rect x="30.9" y="12.500" width="1.800" height="3" fill="#3a78d8"/>
<rect x="33.6" y="8" width="1.800" height="3" fill="#48b848"/><rect x="33.6" y="12.500" width="1.800" height="3" fill="#7a48c0"/>
<rect x="36.3" y="8" width="1.800" height="3" fill="#3a78d8"/><rect x="36.3" y="12.500" width="1.800" height="3" fill="#d848a8"/>
<rect x="39.0" y="8" width="1.800" height="3" fill="#f08a28"/><rect x="39.0" y="12.500" width="1.800" height="3" fill="#e83030"/>
<rect x="41.7" y="8" width="1.800" height="3" fill="#f0f0f0"/><rect x="41.7" y="12.500" width="1.800" height="3" fill="#f08a28"/>
<path d="M64.80 12.50A5 5 0 0 1 63.85 15.44" stroke="#e83030" stroke-width="3.200" fill="none"/>
<path d="M63.85 15.44A5 5 0 0 1 61.35 17.26" stroke="#f08a28" stroke-width="3.200" fill="none"/>
<path d="M61.35 17.26A5 5 0 0 1 58.25 17.26" stroke="#f0d828" stroke-width="3.200" fill="none"/>
<path d="M58.25 17.26A5 5 0 0 1 55.75 15.44" stroke="#48b848" stroke-width="3.200" fill="none"/>
<path d="M55.75 15.44A5 5 0 0 1 54.80 12.50" stroke="#3a78d8" stroke-width="3.200" fill="none"/>
<path d="M54.80 12.50A5 5 0 0 1 55.75 9.56" stroke="#7a48c0" stroke-width="3.200" fill="none"/>
<path d="M55.75 9.56A5 5 0 0 1 58.25 7.74" stroke="#d848a8" stroke-width="3.200" fill="none"/>
<path d="M58.25 7.74A5 5 0 0 1 61.35 7.74" stroke="#38b8c8" stroke-width="3.200" fill="none"/>
<path d="M61.35 7.74A5 5 0 0 1 63.85 9.56" stroke="#a0d040" stroke-width="3.200" fill="none"/>
<path d="M63.85 9.56A5 5 0 0 1 64.80 12.50" stroke="#e86060" stroke-width="3.200" fill="none"/>
<rect x="3.100" y="22.700" width="7.400" height="9" fill="#cdbda6"/><rect x="11.300" y="22.700" width="7.600" height="9" fill="#c9b9a0"/>
<rect x="3.5" y="31.200" width="1.700" height="2" fill="#e83030"/>
<rect x="5.6" y="31.200" width="1.700" height="2" fill="#f08a28"/>
<rect x="7.7" y="31.200" width="1.700" height="2" fill="#f0d828"/>
<rect x="9.8" y="31.200" width="1.700" height="2" fill="#48b848"/>
<rect x="11.9" y="31.200" width="1.700" height="2" fill="#3a78d8"/>
<rect x="14.0" y="31.200" width="1.700" height="2" fill="#7a48c0"/>
<rect x="16.1" y="31.200" width="1.700" height="2" fill="#d848a8"/>
<rect x="23.6" y="23.500" width="2" height="6.800" rx=".6" fill="#dfe6ee"/><rect x="23.9" y="21" width="1.400" height="2.800" fill="#e83030"/>
<rect x="26.1" y="23.500" width="2" height="6.800" rx=".6" fill="#dfe6ee"/><rect x="26.4" y="21" width="1.400" height="2.800" fill="#f0d828"/>
<rect x="28.6" y="23.500" width="2" height="6.800" rx=".6" fill="#dfe6ee"/><rect x="28.9" y="21" width="1.400" height="2.800" fill="#3a78d8"/>
<rect x="31.1" y="23.500" width="2" height="6.800" rx=".6" fill="#dfe6ee"/><rect x="31.4" y="21" width="1.400" height="2.800" fill="#48b848"/>
<rect x="33.6" y="23.500" width="2" height="6.800" rx=".6" fill="#dfe6ee"/><rect x="33.9" y="21" width="1.400" height="2.800" fill="#e83030"/>
<rect x="23.200" y="27" width="12.800" height="2.200" fill="#c6cfda"/>
<path d="M50 31.3L39.8 25.9L42.8 22.4z" fill="#e040a0"/>
<path d="M50 31.3L42.0 23.0L45.9 20.6z" fill="#c838b0"/>
<path d="M50 31.3L45.0 21.0L49.4 19.8z" fill="#48b860"/>
<path d="M50 31.3L48.4 19.9L53.0 20.2z" fill="#38a8a0"/>
<path d="M50 31.3L52.0 20.0L56.3 21.7z" fill="#3060c0"/>
<path d="M50 31.3L55.4 21.1L58.9 24.1z" fill="#284898"/>
<path d="M40.600 23l8-3.500 9 4.500-1 7.500-9-1z" fill="#e040a0" opacity=".0"/>
<rect x="65.300" y="18" width="4.200" height="18.700" rx=".8" fill="#2e2e30"/><rect x="66.300" y="24" width="1.200" height="8" fill="#8a8a8c"/>
<rect x="3.900" y="36.700" width="10.900" height="23.300" fill="#f0e8dc"/><rect x="3.900" y="36.700" width="10.900" height="1.600" fill="#9048b0"/><rect x="5.500" y="39.500" width="7.500" height="5" fill="#e8a040"/><rect x="7" y="40.500" width="4.500" height="2.600" fill="#e03838"/>
<rect x="4.6" y="46.0" width="1.200" height="3.800" fill="#e83030"/>
<rect x="6.2" y="46.0" width="1.200" height="3.800" fill="#f08a28"/>
<rect x="7.8" y="46.0" width="1.200" height="3.800" fill="#f0d828"/>
<rect x="9.4" y="46.0" width="1.200" height="3.800" fill="#48b848"/>
<rect x="11.0" y="46.0" width="1.200" height="3.800" fill="#3a78d8"/>
<rect x="12.6" y="46.0" width="1.200" height="3.800" fill="#7a48c0"/>
<rect x="4.6" y="50.6" width="1.200" height="3.800" fill="#f0d828"/>
<rect x="6.2" y="50.6" width="1.200" height="3.800" fill="#48b848"/>
<rect x="7.8" y="50.6" width="1.200" height="3.800" fill="#3a78d8"/>
<rect x="9.4" y="50.6" width="1.200" height="3.800" fill="#7a48c0"/>
<rect x="11.0" y="50.6" width="1.200" height="3.800" fill="#d848a8"/>
<rect x="12.6" y="50.6" width="1.200" height="3.800" fill="#e83030"/>
<rect x="4.6" y="55.2" width="1.200" height="3.800" fill="#3a78d8"/>
<rect x="6.2" y="55.2" width="1.200" height="3.800" fill="#7a48c0"/>
<rect x="7.8" y="55.2" width="1.200" height="3.800" fill="#d848a8"/>
<rect x="9.4" y="55.2" width="1.200" height="3.800" fill="#e83030"/>
<rect x="11.0" y="55.2" width="1.200" height="3.800" fill="#f08a28"/>
<rect x="12.6" y="55.2" width="1.200" height="3.800" fill="#f0d828"/>
<circle cx="20" cy="39" r="2.300" fill="#e83060"/>
<circle cx="23.5" cy="37.5" r="2.300" fill="#f0a020"/>
<circle cx="26.5" cy="39.5" r="2.300" fill="#f0d828"/>
<circle cx="21" cy="43" r="2.300" fill="#f07090"/>
<circle cx="24.5" cy="41.5" r="2.300" fill="#e83030"/>
<circle cx="27.5" cy="43.5" r="2.300" fill="#f08a28"/>
<circle cx="23.5" cy="45" r="2.300" fill="#e850a0"/>
<circle cx="19" cy="42" r="2.300" fill="#f0d040"/>
<rect x="33.300" y="34.6" width="13.600" height="1.600" fill="#b03030"/>
<rect x="33.300" y="36.1" width="13.600" height="1.600" fill="#e05a28"/>
<rect x="33.300" y="37.6" width="13.600" height="1.600" fill="#e8a028"/>
<rect x="33.300" y="39.1" width="13.600" height="1.600" fill="#48a848"/>
<rect x="33.300" y="40.6" width="13.600" height="1.600" fill="#2f8a78"/>
<rect x="33.300" y="42.1" width="13.600" height="1.600" fill="#3a68c8"/>
<rect x="33.300" y="43.6" width="13.600" height="1.600" fill="#6a48b0"/>
<path d="M56.500 48L48.5 36.9" stroke="#e850a0" stroke-width="1.100"/>
<path d="M56.500 48L50.6 35.8" stroke="#9048b0" stroke-width="1.100"/>
<path d="M56.500 48L52.9 35.0" stroke="#f0d028" stroke-width="1.100"/>
<path d="M56.500 48L55.3 34.6" stroke="#e83030" stroke-width="1.100"/>
<path d="M56.500 48L57.7 34.6" stroke="#b06040" stroke-width="1.100"/>
<path d="M56.500 48L60.1 35.0" stroke="#7a48c0" stroke-width="1.100"/>
<path d="M56.500 48L62.4 35.8" stroke="#e070b0" stroke-width="1.100"/>
<path d="M56.500 48L64.5 36.9" stroke="#a07040" stroke-width="1.100"/>
<rect x="54.800" y="44.500" width="3.600" height="4" fill="#7a5a9a"/>
<path d="M18 58l3-6 1 5 3-7 .5 7 3-5-1 7M19 54l8 2M20 59l7-4" stroke="#a8a8a8" stroke-width=".7" fill="none"/>
<path d="M33.600 51.500l13-2.300 6.500 4v9.300l-15 .5z" fill="#243468"/><path d="M38 57l15-1.500V62.500l-15 .5z" fill="#a83088"/>
<rect x="39.0" y="54.500" width="1.500" height="5" fill="#f2f2f4"/>
<rect x="41.2" y="54.500" width="1.500" height="5" fill="#f2f2f4"/>
<rect x="43.4" y="54.500" width="1.500" height="5" fill="#f2f2f4"/>
<rect x="45.6" y="54.500" width="1.500" height="5" fill="#f2f2f4"/>
<rect x="47.8" y="54.500" width="1.500" height="5" fill="#f2f2f4"/>
<rect x="50.0" y="54.500" width="1.500" height="5" fill="#f2f2f4"/>
<rect x="39.0" y="59.600" width="1.500" height="1.800" fill="#e83030"/>
<rect x="41.2" y="59.600" width="1.500" height="1.800" fill="#f08a28"/>
<rect x="43.4" y="59.600" width="1.500" height="1.800" fill="#f0d828"/>
<rect x="45.6" y="59.600" width="1.500" height="1.800" fill="#48b848"/>
<rect x="47.8" y="59.600" width="1.500" height="1.800" fill="#3a78d8"/>
<rect x="50.0" y="59.600" width="1.500" height="1.800" fill="#7a48c0"/>
<circle cx="69.50" cy="56.20" r="1.250" fill="#e83030"/>
<circle cx="68.83" cy="58.70" r="1.250" fill="#3a78d8"/>
<circle cx="67.00" cy="60.53" r="1.250" fill="#f0d828"/>
<circle cx="64.50" cy="61.20" r="1.250" fill="#48b848"/>
<circle cx="62.00" cy="60.53" r="1.250" fill="#e850a0"/>
<circle cx="60.17" cy="58.70" r="1.250" fill="#f08a28"/>
<circle cx="59.50" cy="56.20" r="1.250" fill="#7a48c0"/>
<circle cx="60.17" cy="53.70" r="1.250" fill="#38b8c8"/>
<circle cx="62.00" cy="51.87" r="1.250" fill="#e83030"/>
<circle cx="64.50" cy="51.20" r="1.250" fill="#f0d828"/>
<circle cx="67.00" cy="51.87" r="1.250" fill="#3a78d8"/>
<circle cx="68.83" cy="53.70" r="1.250" fill="#48b848"/>
<path d="M3.100 71.500l9-1.200 1.200 11-8.500 1z" fill="#4fa030"/><path d="M4.500 74l7-1 .5 4-7 1z" fill="#e8d030"/><path d="M5 79l7-.8" stroke="#e04030" stroke-width="1.600"/><path d="M4.700 82.500l10-2.500 3.300 5-11 3z" fill="#b4c440"/><path d="M7 85l9-2.500" stroke="#80a030" stroke-width="1"/>
<path d="M24.7 73.9L23.43 67.29A7.3 6.72 0 0 1 28.35 68.08z" fill="#3a88d8"/>
<path d="M24.7 73.9L28.35 68.08A7.3 6.72 0 0 1 31.56 71.60z" fill="#58b848"/>
<path d="M24.7 73.9L31.56 71.60A7.3 6.72 0 0 1 31.56 76.20z" fill="#f0d828"/>
<path d="M24.7 73.9L31.56 76.20A7.3 6.72 0 0 1 28.35 79.72z" fill="#f08a28"/>
<path d="M24.7 73.9L28.35 79.72A7.3 6.72 0 0 1 23.43 80.51z" fill="#d02020"/>
<path d="M24.7 73.9L23.43 80.51A7.3 6.72 0 0 1 19.11 78.22z" fill="#d02020"/>
<path d="M24.7 73.9L19.11 78.22A7.3 6.72 0 0 1 17.40 73.90z" fill="#c83070"/>
<path d="M24.7 73.9L17.40 73.90A7.3 6.72 0 0 1 19.11 69.58z" fill="#7a48c0"/>
<path d="M24.7 73.9L19.11 69.58A7.3 6.72 0 0 1 23.43 67.29z" fill="#38a8c8"/>
<path d="M38.300 65.500l19-1v9l-19 1z" fill="#3a3038"/>
<path d="M39.0 65.80h1.300v8h-1.300z" fill="#7a3020"/>
<path d="M40.8 65.75h1.300v8h-1.300z" fill="#e83030"/>
<path d="M42.6 65.70h1.300v8h-1.300z" fill="#f08a28"/>
<path d="M44.4 65.65h1.300v8h-1.300z" fill="#f0d828"/>
<path d="M46.2 65.60h1.300v8h-1.300z" fill="#48b848"/>
<path d="M48.0 65.55h1.300v8h-1.300z" fill="#2f8a78"/>
<path d="M49.8 65.50h1.300v8h-1.300z" fill="#3a78d8"/>
<path d="M51.6 65.45h1.300v8h-1.300z" fill="#7a48c0"/>
<path d="M53.4 65.40h1.300v8h-1.300z" fill="#502870"/>
<path d="M55.2 65.35h1.300v8h-1.300z" fill="#303030"/>
<rect x="35.200" y="77.300" width="21.800" height="10.200" fill="#e03222"/><rect x="37" y="79.500" width="18" height="5.500" fill="#f0c024"/>
<rect x="37.6" y="80.200" width="1.500" height="4.200" fill="#e05028"/>
<rect x="40.1" y="80.200" width="1.500" height="4.200" fill="#e05028"/>
<rect x="42.6" y="80.200" width="1.500" height="4.200" fill="#e05028"/>
<rect x="45.1" y="80.200" width="1.500" height="4.200" fill="#e05028"/>
<rect x="47.6" y="80.200" width="1.500" height="4.200" fill="#e05028"/>
<rect x="50.1" y="80.200" width="1.500" height="4.200" fill="#e05028"/>
<rect x="52.6" y="80.200" width="1.500" height="4.200" fill="#e05028"/>
<rect x="35.200" y="77.300" width="21.800" height="1.400" fill="#f0d8a0"/>
<rect x="61.400" y="68" width="9.200" height="17.200" fill="#cdb083"/><rect x="62.400" y="69.200" width="7.200" height="6" fill="#e6d8c0"/>
<rect x="62.4" y="76.5" width="1.400" height="2" fill="#e83030"/>
<rect x="64.3" y="76.5" width="1.400" height="2" fill="#f0d828"/>
<rect x="66.2" y="76.5" width="1.400" height="2" fill="#3a78d8"/>
<rect x="68.1" y="76.5" width="1.400" height="2" fill="#d848a8"/>
<rect x="62.4" y="79.3" width="1.400" height="2" fill="#f08a28"/>
<rect x="64.3" y="79.3" width="1.400" height="2" fill="#48b848"/>
<rect x="66.2" y="79.3" width="1.400" height="2" fill="#7a48c0"/>
<rect x="68.1" y="79.3" width="1.400" height="2" fill="#e83030"/>
<rect x="62.4" y="82.1" width="1.400" height="2" fill="#f0d828"/>
<rect x="64.3" y="82.1" width="1.400" height="2" fill="#3a78d8"/>
<rect x="66.2" y="82.1" width="1.400" height="2" fill="#d848a8"/>
<rect x="68.1" y="82.1" width="1.400" height="2" fill="#f08a28"/>
<path d="M22 91h18" stroke="#b8b8c0" stroke-width=".5"/>
<path d="M1 .5h71" stroke="#c8d8a0" stroke-width=".5"/>
</svg>
</g>
<rect x="325.77" y="574.98" width="90.45" height="100.55" rx="18.12" fill="none"/>
<rect x="9.97" y="7.78" width="255.40" height="42.10" rx="19.5" ry="15.6" fill="#a8d866"/>
<rect x="15.18" y="278.68" width="238.95" height="44.15" rx="18" ry="15" fill="url(#g7)"/>
<rect x="17.77" y="519.73" width="239.55" height="44.15" rx="18" ry="15" fill="#ffd062"/>
<rect x="346.83" y="4.78" width="239.29" height="44.05" rx="18" ry="15" fill="#ffc6e2"/>
<rect x="577.98" y="54.52" width="166.75" height="44.50" rx="18" ry="15" fill="url(#g8)"/>
<rect x="770.08" y="9.28" width="239.95" height="44.85" rx="18" ry="15" fill="#c5b3f3"/>
<rect x="779.27" y="275.57" width="235.15" height="54.75" rx="18.5" ry="16.4" fill="url(#g9)"/>
<rect x="769.58" y="518.77" width="250.35" height="50.45" rx="18.5" ry="16.4" fill="#ff8d4b"/>
<rect x="392.98" y="529.17" width="238.90" height="43.65" rx="18" ry="15" fill="#baf769"/>
<g id="conn2" stroke-width="3.7">
<path d="M156.6 49.5L158.2 80.5" stroke-width="3.3"/>
<path d="M160.25 321V335"/>
<path d="M158.1 558.8V610"/>
<path d="M649 96.4V111"/>
<path d="M918.3 54L919.6 70L912.6 78" stroke-linejoin="miter"/>
<path d="M891 330L891.6 346" stroke-width="3.6"/>
<path d="M911 568V604"/>
<path d="M494.6 434V447M494.6 505V530M494.6 572V596"/>
</g>
</svg>

<!-- pill text -->
<div class="pt" style="left:33.20px;top:18.50px;color:#3c64c2;letter-spacing:2px">OFFICE SUPPLIES</div>
<div class="pt" style="left:91.20px;top:289.00px;color:#3c64c2;letter-spacing:3.1px">DRINKS</div>
<div class="pt" style="left:98.20px;top:532.20px;color:#3c64c2;letter-spacing:3.1px">SNACKS</div>
<div class="pt" style="left:374.75px;top:4.50px;color:#101010;letter-spacing:2.05px">PARTY/FUNCTION</div>
<div class="pt" style="left:414.75px;top:27.00px;color:#101010">SUPPLIES</div>
<div class="pt" style="left:612.40px;top:66.50px;color:#101010;letter-spacing:2.4px">SPECIALS</div>
<div class="pt" style="left:777.90px;top:22.10px;color:#3c64c2;letter-spacing:2.2px">CLEANING SUPPLIES</div>
<div class="pt" style="left:799.80px;top:290.90px;color:#101010;font-size:19px;letter-spacing:2.2px">PAPER PRODUCTS</div>
<div class="pt" style="left:778.00px;top:530.60px;color:#101010;letter-spacing:2.9px">BOARD GAMES/BOOKS</div>
<div class="pt" style="left:416.90px;top:539.30px;color:#101010;letter-spacing:2px">ARTS AND CRAFTS</div>

<!-- text -->
<div class="fe" style="left:139px;top:98px;color:#5d30cf">for example</div>
<div class="t" style="left:28px;top:151.5px;width:200px">Copy Paper<br>Sticky Notes<br>Envelopes<br>Scrap pads/Note pads<br>Pens</div>

<div class="fe" style="left:169.5px;top:408px;color:#fff">for example</div>
<div class="t s" style="left:0px;top:411.5px;width:199px;line-height:18.4px">Juice Boxes<br>Bottled Water<br>2ltr bottles Pop<br>Tea-Bags<br>Hot Chocolate mix</div>

<div class="fe" style="left:141px;top:636.75px;color:#6a2fd0">for example</div>
<div class="t" style="left:20px;top:655.3px;width:217.8px;text-align:right;letter-spacing:.13px">Cookies<br>Peanut Free Granola Bars<br>Fruit Snacks<br>individual packets of Chips</div>

<div class="fe" style="left:433px;top:95.75px;color:#5a2be2">for example</div>
<div class="t" style="left:334px;top:126.8px;width:220px;line-height:20.8px;letter-spacing:-.2px">Disposable Plates, Cutlery &amp;<br>Napkins.<br>Disposable cups for hot and<br>cold drinks<br>Shot glasses</div>

<div class="t" style="left:575px;top:120px;width:159px;color:#fff;font-size:14.3px;line-height:20px;letter-spacing:.1px">Non-perishable<br>PRIZES that can be<br>kept for future<br>events<br><span style="display:block;height:17.5px"></span>GIFT CARDS</div>

<div class="fe" style="left:895px;top:107px;color:#fff">for example</div>
<div class="t s" style="left:822px;top:139.4px;width:200px">Disinfectant Wipes<br>Dish cloth/sponges<br>Disinfectant Spray<br>Glass Cleaner<br>Cleaning/polishing cloth<br>Hand &amp; Dish Soap</div>

<div class="fe" style="left:901px;top:364.8px;color:#4a2fd2">for example</div>
<div class="t" style="left:800px;top:417.5px;width:201px;color:#fff">Toilet Paper<br>Kitchen Towel<br>Tissues</div>

<div class="fe" style="left:885px;top:626px;color:#7030d2">for example</div>
<div class="t" style="left:776.8px;top:663px;width:221px;text-align:left"><span style="display:block;word-spacing:4.2px">Any Board Games suitable</span>for all ages<br>Activity Books<br>Story books</div>

<div class="fe" style="left:515px;top:601px;color:#4f31c4">for example</div>
<div class="t" style="left:409.2px;top:620.2px;width:240px;letter-spacing:.1px">Crayons, Pencils &amp; Markers<br>Stock Card<br>Glue<br>Safety Scissors<br>&amp; anything in general for arts<br>and crafts</div>

<div class="t" id="title" style="left:382.3px;top:295.2px;width:278px;color:#fff;font-family:'DejaVu Sans Mono','Liberation Mono',monospace;font-weight:normal;font-size:27px;line-height:35.4px;letter-spacing:3.2px;-webkit-text-stroke:.4px #fff">BFO-DURHAM’S<br><span style="letter-spacing:4.1px">FEBRUARY</span><br><span style="letter-spacing:1.95px">WISH LIST</span></div>

<div class="t" style="left:338.8px;top:451.2px;width:342px;color:#1a4a8a;font-size:18.6px;line-height:24.6px;letter-spacing:0">If anyone could help supply these<br>items it would be greatly appreciated</div>

</body>
</html>
